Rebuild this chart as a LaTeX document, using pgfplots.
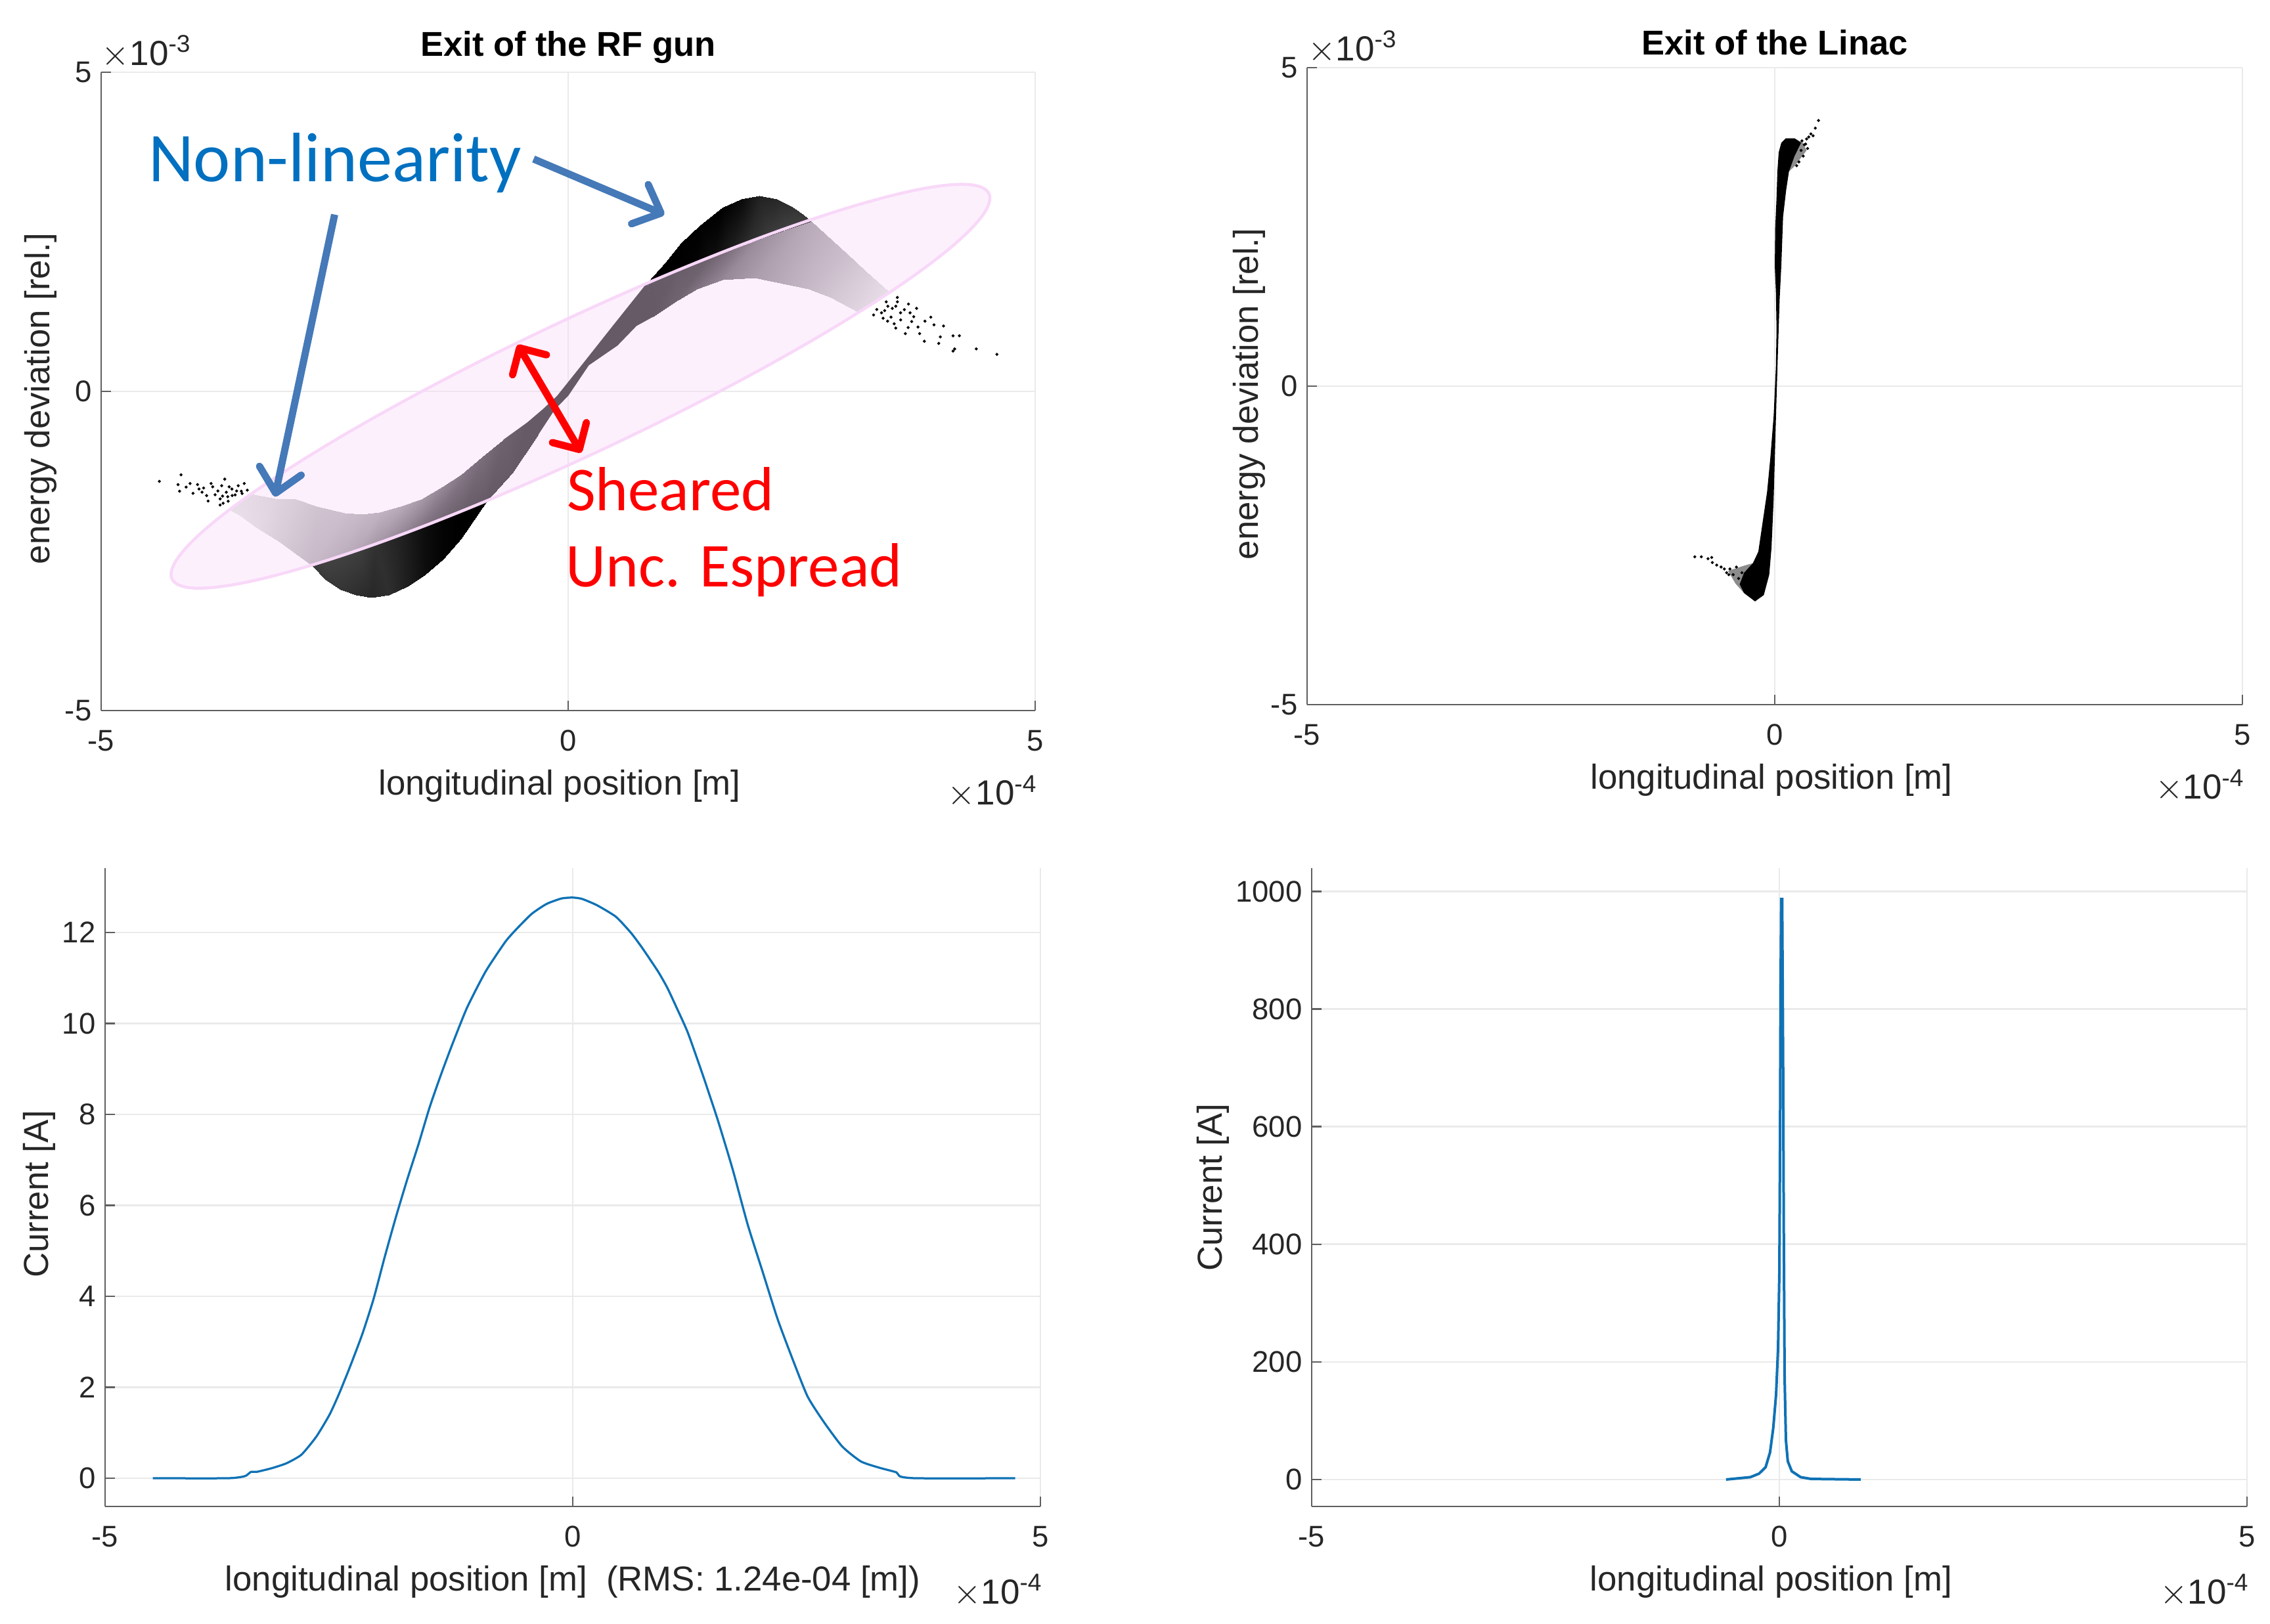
\documentclass[border=0pt]{standalone}
\usepackage{fontspec}
\setmainfont{Liberation Sans}
\newfontfamily\callout{Carlito}
\usepackage{pgfplots}
\pgfplotsset{compat=1.18}
\usetikzlibrary{arrows.meta}

\definecolor{txt}{HTML}{262626}
\definecolor{axln}{HTML}{5F5F5F}
\definecolor{gridc}{HTML}{EAEAEA}
\definecolor{mblue}{HTML}{0F72B5}
\definecolor{pinkf}{RGB}{250,217,250}
\definecolor{pinke}{HTML}{F8D8F8}
\definecolor{arrowb}{HTML}{4579B8}
\definecolor{noteb}{HTML}{0070C0}
\definecolor{b0}{HTML}{665A66}

\tikzset{scaleup/.style={font=\fontsize{10.6}{12}\selectfont,text=txt,inner sep=0pt}}
\pgfplotsset{
  colormap={band}{rgb255=(102,90,102) rgb255=(128,114,128) rgb255=(165,150,165) rgb255=(200,186,200) rgb255=(232,222,232)},
  colormap={lobe}{rgb255=(0,0,0) rgb255=(66,66,66)},
  panel/.style={
    scale only axis,
    clip=false,
    width=284.8pt, height=194.3pt,
    anchor=south west,
    axis lines=left,
    axis line style={-,draw=axln,line width=0.45pt},
    xmin=-5, xmax=5,
    xtick={-5,0,5}, xticklabels={-5,0,5},
    tick align=inside,
    major tick length=3pt,
    tick style={draw=axln,line width=0.45pt},
    ticklabel style={font=\fontsize{9.1}{11}\selectfont,text=txt},
    yticklabel style={xshift=0.6pt},
    xmajorgrids, ymajorgrids,
    grid style={draw=gridc,line width=0.5pt},
    xticklabel style={yshift=-2.5pt},
    label style={font=\fontsize{10.55}{12}\selectfont,text=txt},
    xlabel style={at={(axis description cs:0.5,0)},anchor=center,yshift=-23pt},
    title style={at={(axis description cs:0.5,1)},anchor=center,yshift=1.6pt,
      font=\fontsize{10.5}{12}\selectfont\bfseries,text=black},
  },
  phase/.style={
    panel, ymin=-5, ymax=5,
    ytick={-5,0,5}, yticklabels={-5,0,5},
    xlabel={longitudinal position [m]},
    ylabel={energy deviation [rel.]},
  },
  dots/.style={only marks,mark=*,mark size=0.22pt,draw=none,fill=#1},
  strip/.style={patch,patch type=rectangle,mesh input=lattice,mesh/rows=2,
    shader=interp,point meta=explicit,point meta min=0,point meta max=1,colormap name=#1},
}
\newcommand{\sfx}[1]{$\times$10\textsuperscript{#1}}

\begin{document}
\begin{tikzpicture}
\useasboundingbox (0,0) rectangle (691.2pt,494.6pt);

% exit of the RF gun, phase space with the overlay
\begin{axis}[phase, at={(30.8pt,278.2pt)}, title={Exit of the RF gun},
  ylabel style={at={(axis description cs:0,0.5)},anchor=center,yshift=18.5pt,xshift=-2.2pt},
  xlabel style={xshift=-2.6pt},
  width=284.4pt, height=194.4pt]
% sparse tails
\addplot[dots=black!50] coordinates {
(-4.377,-1.41)(-4.145,-1.307)(-4.177,-1.461)(-4.048,-1.444)(-3.968,-1.461)(-4.161,-1.564)
(-4.016,-1.598)(-3.903,-1.513)(-3.823,-1.444)(-3.677,-1.375)(-3.71,-1.478)(-3.629,-1.495)
(-3.532,-1.478)(-3.468,-1.444)(-3.871,-1.633)(-3.855,-1.718)(-3.726,-1.684)(-3.694,-1.753)
(-3.726,-1.78)(-3.645,-1.65)(-3.597,-1.633)(-3.5,-1.564)(-3.435,-1.547)(-3.952,-1.53)
(-3.806,-1.495)(-3.565,-1.622)(-3.75,-1.56)(-3.66,-1.58)(-3.60,-1.53)(-3.55,-1.56)(-3.49,-1.60)
(-3.78,-1.62)(-3.70,-1.64)(-3.64,-1.72)(-3.92,-1.58)(-4.09,-1.50)
(3.525,1.471)(3.525,1.403)(3.406,1.403)(3.389,1.266)(3.304,1.283)(3.27,1.197)(3.372,1.145)
(3.508,1.334)(3.644,1.368)(3.661,1.231)(3.73,1.30)(3.883,1.163)(3.678,1.094)(3.491,1.06)
(3.508,0.991)(3.61,0.905)(3.746,1.008)(3.763,0.905)(3.814,0.785)(3.917,1.043)(4.019,1.025)
(3.985,0.854)(3.968,0.751)(4.121,0.871)(4.189,0.871)(4.138,0.665)(4.121,0.631)(4.37,0.665)
(4.591,0.58)(3.559,1.231)(3.423,1.334)(3.355,1.231)(3.457,1.163)(3.60,1.28)(3.47,1.30)(3.56,1.12)
(3.42,1.10)(3.70,1.17)(3.82,1.10)(3.64,1.00)
};
% overlay ellipse, fill
\addplot[draw=none,fill=pinkf,fill opacity=0.40,smooth cycle,tension=0.6] coordinates {
(4.505,3.10)(4.435,2.753)(4.071,2.223)(3.439,1.548)(2.583,0.773)(1.559,-0.049)(0.436,-0.863)
(-0.707,-1.613)(-1.791,-2.247)(-2.745,-2.722)(-3.503,-3.007)(-4.013,-3.081)(-4.241,-2.94)
(-4.171,-2.593)(-3.807,-2.063)(-3.175,-1.388)(-2.319,-0.613)(-1.295,0.209)(-0.172,1.023)
(0.971,1.773)(2.055,2.407)(3.009,2.882)(3.767,3.167)(4.277,3.241)
};
% beam seen through the ellipse
\addplot[draw=none,fill=b0] coordinates {
(-0.694,-0.758)
(-0.435,-0.484)(-0.27,-0.278)(-0.119,-0.072)(0.143,0.408)(0.477,1.025)(0.664,1.368)(0.851,1.711)
(0.903,1.163)
(0.732,1.025)(0.528,0.717)(0.221,0.408)(0,-0.072)(-0.14,-0.278)(-0.32,-0.68)(-0.597,-1.273)
} --cycle;
% density falls off towards both ends of the beam
\addplot[strip=band] coordinates {
(-3.63,-1.855)[1] (-3.40,-1.60)[0.97] (-3.11,-1.684)[0.92] (-2.92,-1.684)[0.88] (-2.69,-1.804)[0.82] (-2.40,-1.907)[0.78] (-2.21,-1.924)[0.74] (-2.02,-1.89)[0.7] (-1.79,-1.804)[0.64] (-1.565,-1.684)[0.52] (-1.34,-1.495)[0.4] (-1.145,-1.307)[0.3] (-0.92,-1.032)[0.2] (-0.694,-0.758)[0.08] (-0.435,-0.484)[0]
(-3.5,-1.958)[1] (-3.339,-2.13)[0.97] (-3.08,-2.37)[0.88] (-2.92,-2.54)[0.82] (-2.745,-2.722)[0.74] (-2.45,-2.576)[0.68] (-2.25,-2.476)[0.62] (-2.05,-2.376)[0.52] (-1.791,-2.247)[0.4] (-1.55,-2.11)[0.25] (-1.3,-1.97)[0.12] (-1.1,-1.85)[0.04] (-0.87,-1.72)[0] (-0.597,-1.273)[0] (-0.32,-0.68)[0]
};
\addplot[strip=band] coordinates {
(0.851,1.711)[0] (1.15,1.881)[0.03] (1.5,2.08)[0.08] (1.75,2.22)[0.25] (2.055,2.39)[0.45] (2.6,2.66)[0.64] (2.98,2.157)[0.78] (3.185,1.883)[0.88] (3.44,1.557)[1]
(0.903,1.163)[0] (1.141,1.403)[0.1] (1.379,1.608)[0.25] (1.652,1.746)[0.4] (2.0,1.78)[0.55] (2.572,1.608)[0.74] (2.81,1.471)[0.84] (3.117,1.231)[0.94] (3.44,1.557)[1]
};
% the lobes outside the ellipse
\addplot[strip=lobe] coordinates {
(-0.87,-1.72)[0] (-1.0,-1.794)[0] (-1.15,-1.88)[0] (-1.35,-1.99)[0.05] (-1.55,-2.11)[0.2] (-1.791,-2.247)[0.5] (-2.05,-2.376)[0.75] (-2.25,-2.476)[0.95] (-2.45,-2.576)[1] (-2.62,-2.66)[1] (-2.745,-2.722)[0.9]
(-0.87,-1.72)[0] (-1.145,-2.301)[0] (-1.339,-2.627)[0.05] (-1.532,-2.867)[0.2] (-1.726,-3.056)[0.45] (-1.919,-3.186)[0.7] (-2.113,-3.227)[0.6] (-2.274,-3.193)[0.7] (-2.435,-3.107)[0.8] (-2.597,-2.953)[0.85] (-2.745,-2.722)[0.9]
};
\addplot[strip=lobe] coordinates {
(0.851,1.711)[0] (1.0,1.796)[0] (1.15,1.881)[0] (1.35,1.995)[0.05] (1.55,2.108)[0.2] (1.75,2.22)[0.45] (1.95,2.331)[0.7] (2.15,2.437)[0.9] (2.35,2.536)[1] (2.5,2.61)[1] (2.6,2.66)[0.9]
(0.851,1.711)[0] (1.039,2.02)[0] (1.209,2.329)[0] (1.413,2.603)[0] (1.652,2.877)[0] (1.856,3.014)[0.15] (2.044,3.066)[0.5] (2.231,3.014)[0.6] (2.401,2.894)[0.75] (2.52,2.77)[0.85] (2.6,2.66)[0.9]
};
% overlay ellipse, outline
\addplot[draw=pinke,line width=0.9pt,smooth cycle,tension=0.6] coordinates {
(4.505,3.10)(4.435,2.753)(4.071,2.223)(3.439,1.548)(2.583,0.773)(1.559,-0.049)(0.436,-0.863)
(-0.707,-1.613)(-1.791,-2.247)(-2.745,-2.722)(-3.503,-3.007)(-4.013,-3.081)(-4.241,-2.94)
(-4.171,-2.593)(-3.807,-2.063)(-3.175,-1.388)(-2.319,-0.613)(-1.295,0.209)(-0.172,1.023)
(0.971,1.773)(2.055,2.407)(3.009,2.882)(3.767,3.167)(4.277,3.241)
};
% annotations
\addplot[arrowb,line width=2.2pt,-{Straight Barb[length=7pt,width=13pt,round]}] coordinates {(-0.37,3.64)(1.03,2.77)};
\addplot[arrowb,line width=2.2pt,-{Straight Barb[length=7pt,width=13pt,round]}] coordinates {(-2.50,2.77)(-3.14,-1.65)};
\addplot[red,line width=2.2pt,{Straight Barb[length=6pt,width=12pt,round]}-{Straight Barb[length=6pt,width=12pt,round]}] coordinates {(-0.54,0.73)(0.14,-0.96)};
\node[anchor=west,inner sep=0pt,text=noteb,font=\callout\fontsize{21.3}{24}\selectfont] at (axis cs:-4.5,3.58) {Non-linearity};
\node[anchor=west,inner sep=0pt,text=red,font=\callout\fontsize{19}{22}\selectfont] at (axis cs:-0.02,-1.53) {Sheared};
\node[anchor=west,inner sep=0pt,text=red,font=\callout\fontsize{19}{22}\selectfont] at (axis cs:-0.03,-2.80) {Unc. Espread};
\node[scaleup,anchor=south west,yshift=1pt] at (rel axis cs:0,1) {\sfx{-3}};
\node[scaleup,anchor=east,yshift=-24.7pt,xshift=1pt] at (rel axis cs:1,0) {\sfx{-4}};
\end{axis}

% exit of the linac, phase space
\begin{axis}[phase, at={(398pt,280pt)}, title={Exit of the Linac},
  ylabel style={at={(axis description cs:0,0.5)},anchor=center,yshift=17.6pt,xshift=-2.4pt},
  xlabel style={xshift=-1pt},
  height=194pt]
\addplot[dots=black!50] coordinates {
(0.468,4.17)(0.433,4.05)(0.386,3.96)(0.363,3.91)(0.41,3.93)(0.34,3.88)(0.316,3.79)(0.351,3.73)
(0.304,3.61)(0.258,3.52)(0.234,3.46)(0.281,3.70)(0.33,3.80)(0.29,3.85)
(-0.855,-2.68)(-0.785,-2.68)(-0.714,-2.71)(-0.674,-2.69)(-0.667,-2.77)(-0.621,-2.81)(-0.574,-2.84)
(-0.539,-2.87)(-0.515,-2.93)(-0.48,-2.87)(-0.445,-2.96)(-0.41,-2.84)(-0.386,-3.02)(-0.492,-2.96)(-0.351,-2.93)
};
\addplot[draw=none,fill=black!45] coordinates {
(-0.50,-2.90)(-0.33,-2.82)(-0.234,-2.78)(-0.328,-3.25)(-0.42,-3.10)
} --cycle;
\addplot[draw=none,fill=black!45] coordinates {
(0.211,3.89)(0.30,3.82)(0.34,3.70)(0.21,3.45)(0.152,3.37)
} --cycle;
\addplot[draw=none,fill=black] coordinates {
(0.117,3.89)(0.07,3.82)(0.042,3.67)(0.028,3.37)(0.019,2.96)(0.005,2.49)(0,1.89)(0.012,1.48)
(0.019,0.89)(0.012,0.30)(-0.012,-0.47)(-0.047,-1.12)(-0.082,-1.66)(-0.129,-2.13)(-0.176,-2.60)
(-0.234,-2.78)(-0.328,-2.93)(-0.375,-3.11)(-0.328,-3.25)(-0.211,-3.38)(-0.117,-3.28)(-0.059,-2.96)
(-0.035,-2.54)(-0.012,-1.78)(0.005,-0.89)(0.019,-0.18)(0.035,0.59)(0.052,1.36)(0.07,1.89)
(0.089,2.66)(0.122,3.08)(0.152,3.37)(0.211,3.61)(0.281,3.82)(0.211,3.89)
} --cycle;
\node[scaleup,anchor=south west,yshift=1pt] at (rel axis cs:0,1) {\sfx{-3}};
\node[scaleup,anchor=east,yshift=-24.7pt,xshift=1pt] at (rel axis cs:1,0) {\sfx{-4}};
\end{axis}

% exit of the RF gun, current
\begin{axis}[panel, at={(32pt,35.8pt)}, ymin=-0.62, ymax=13.41,
  ytick={0,2,4,6,8,10,12}, yticklabels={0,2,4,6,8,10,12},
  xlabel={longitudinal position [m]\ \ (RMS: 1.24e-04 [m])},
  ylabel={Current [A]},
  ylabel style={at={(axis description cs:0,0.5)},anchor=center,yshift=20pt,xshift=-2pt}]
\addplot[mblue,line width=0.65pt,smooth,tension=0.35] coordinates {
(-4.49,0)(-3.70,0)(-3.54,0.03)(-3.49,0.06)(-3.44,0.14)(-3.38,0.14)(-3.22,0.22)(-3.06,0.33)(-2.90,0.52)
(-2.74,0.92)(-2.60,1.40)(-2.50,1.85)(-2.38,2.46)(-2.25,3.17)(-2.13,3.94)(-2.01,4.87)(-1.89,5.75)
(-1.77,6.57)(-1.65,7.34)(-1.53,8.16)(-1.41,8.87)(-1.29,9.53)(-1.13,10.35)(-0.93,11.15)(-0.72,11.8)
(-0.60,12.08)(-0.44,12.41)(-0.28,12.63)(-0.12,12.75)(0,12.77)(0.10,12.74)(0.26,12.6)(0.46,12.35)
(0.62,12.0)(0.74,11.67)(0.91,11.15)(1.01,10.79)(1.11,10.35)(1.23,9.8)(1.39,8.87)(1.55,7.88)(1.71,6.79)
(1.87,5.58)(2.03,4.54)(2.19,3.5)(2.35,2.62)(2.51,1.8)(2.68,1.25)(2.88,0.70)(3.08,0.37)(3.28,0.23)
(3.46,0.13)(3.50,0.04)(3.68,0)(4.73,0)
};
\node[scaleup,anchor=east,yshift=-25.6pt,xshift=1pt] at (rel axis cs:1,0) {\sfx{-4}};
\end{axis}

% exit of the linac, current
\begin{axis}[panel, at={(399.4pt,35.8pt)}, ymin=-45.8, ymax=1039,
  ytick={0,200,400,600,800,1000}, yticklabels={0,200,400,600,800,1000},
  xlabel={longitudinal position [m]},
  xlabel style={xshift=-2.5pt},
  ylabel={Current [A]},
  ylabel style={at={(axis description cs:0,0.5)},anchor=center,yshift=30pt}]
\addplot[mblue,line width=0.8pt] coordinates {
(-0.57,0)(-0.31,4)(-0.217,10)(-0.147,21)(-0.10,46)(-0.065,88)(-0.035,145)(-0.014,223)(0,352)(0.007,565)
(0.014,850)(0.02,987)(0.03,987)(0.04,707)(0.047,423)(0.056,174)(0.07,67)(0.09,31)(0.133,14)(0.227,4)
(0.34,1)(0.87,0)
};
\node[scaleup,anchor=east,yshift=-25.6pt,xshift=1pt] at (rel axis cs:1,0) {\sfx{-4}};
\end{axis}
\end{tikzpicture}
\end{document}
